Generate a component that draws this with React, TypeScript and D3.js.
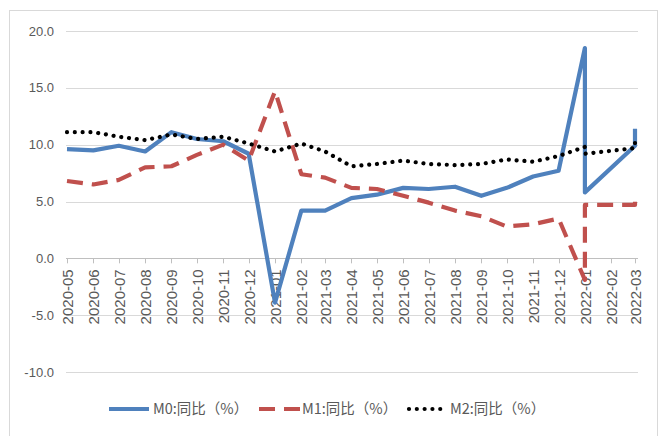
import React from 'react';
import * as d3 from 'd3';

// tick labels on the date axis
const ticks = [
  '2020-05', '2020-06', '2020-07', '2020-08', '2020-09', '2020-10', '2020-11', '2020-12',
  '2021-01', '2021-02', '2021-03', '2021-04', '2021-05', '2021-06', '2021-07', '2021-08',
  '2021-09', '2021-10', '2021-11', '2021-12', '2022-01', '2022-02', '2022-03'
];

// date each point sits on (Jan+Feb 2022 share one date, Mar+Apr share another)
const pointDates = [
  '2020-05', '2020-06', '2020-07', '2020-08', '2020-09', '2020-10', '2020-11', '2020-12',
  '2021-01', '2021-02', '2021-03', '2021-04', '2021-05', '2021-06', '2021-07', '2021-08',
  '2021-09', '2021-10', '2021-11', '2021-12', '2022-01', '2022-01', '2022-03', '2022-03'
];

const m0 = [9.6, 9.5, 9.9, 9.4, 11.1, 10.5, 10.3, 9.2, -3.9, 4.2, 4.2, 5.3, 5.6, 6.2, 6.1, 6.3, 5.5, 6.2, 7.2, 7.7, 18.5, 5.8, 9.9, 11.4];
const m1 = [6.8, 6.5, 6.9, 8.0, 8.1, 9.1, 10.0, 8.6, 14.7, 7.4, 7.1, 6.2, 6.1, 5.5, 4.9, 4.2, 3.7, 2.8, 3.0, 3.5, -1.9, 4.7, 4.7, 5.1];
const m2 = [11.1, 11.1, 10.7, 10.4, 10.9, 10.5, 10.7, 10.1, 9.4, 10.1, 9.4, 8.1, 8.3, 8.6, 8.3, 8.2, 8.3, 8.7, 8.5, 9.0, 9.8, 9.2, 9.7, 10.5];

const yTicks = [20, 15, 10, 5, 0, -5, -10];

const seriesNames = ['M0:同比（%）', 'M1:同比（%）', 'M2:同比（%）'];

const parseMonth = d3.timeParse('%Y-%m');

const App: React.FC = () => {
  const width = 666;
  const height = 436;

  const x = d3.scaleTime()
    .domain([parseMonth(ticks[0])!, parseMonth(ticks[ticks.length - 1])!])
    .range([67, 635]);
  const y = d3.scaleLinear().domain([-10, 20]).range([372, 31]);

  const gridLeft = 66;
  const gridRight = 638;

  const line = d3.line<number>()
    .x((_, i) => x(parseMonth(pointDates[i])!))
    .y(d => y(d));

  const series = [
    { values: m0, color: '#4f81bd', dash: undefined as string | undefined, cap: 'butt' },
    { values: m1, color: '#c0504d', dash: '16 9', cap: 'butt' },
    { values: m2, color: '#000000', dash: '0.01 7.8', cap: 'round' }
  ];

  const textColor = '#595959';
  const legendY = 409;
  const legendItems = [
    { x1: 109, x2: 149, tx: 153 },
    { x1: 259, x2: 300, tx: 302 },
    { x1: 409, x2: 443, tx: 450 }
  ];

  return (
    <div style={{ position: 'fixed', left: 0, top: 0 }}>
      <svg width={width} height={height} style={{ display: 'block', background: '#fff' }}>
        <rect x={9.5} y={10.5} width={648} height={440} fill="#fff" stroke="#d9d9d9" strokeWidth={1} />

        {/* gridlines */}
        {yTicks.map(t => (
          <line key={t} x1={gridLeft} x2={gridRight} y1={Math.round(y(t)) + 0.5} y2={Math.round(y(t)) + 0.5}
            stroke={t === 0 ? '#bfbfbf' : '#d9d9d9'} strokeWidth={1} />
        ))}

        {/* y labels */}
        {yTicks.map(t => (
          <text key={'l' + t} x={54} y={y(t)} dy="0.35em" textAnchor="end"
            fontFamily="Liberation Sans, Arial, sans-serif" fontSize={13} fill={textColor}>
            {t.toFixed(1)}
          </text>
        ))}

        {/* category ticks and labels on the 0 line */}
        {ticks.map(t => {
          const px = Math.round(x(parseMonth(t)!)) + 0.5;
          return (
            <g key={t}>
              <line x1={px} x2={px} y1={y(0)} y2={y(0) + 5} stroke="#bfbfbf" strokeWidth={1} />
              <text transform={`translate(${px},${y(0) + 11}) rotate(-90)`} dy="0.35em" textAnchor="end"
                fontFamily="Liberation Sans, Arial, sans-serif" fontSize={15} fill={textColor}>
                {t}
              </text>
            </g>
          );
        })}

        {/* series lines */}
        {series.map((s, i) => (
          <path key={i} d={line(s.values) ?? ''} fill="none" stroke={s.color} strokeWidth={4.2}
            strokeDasharray={s.dash} strokeLinecap={s.cap as any} strokeLinejoin="round" />
        ))}

        {/* legend */}
        {legendItems.map((l, i) => (
          <g key={'lg' + i}>
            <line x1={l.x1} x2={l.x2} y1={legendY} y2={legendY} stroke={series[i].color} strokeWidth={4.2}
              strokeDasharray={series[i].dash} strokeLinecap={series[i].cap as any} />
            <text x={l.tx} y={legendY} dy="0.35em" fontFamily="Noto Sans CJK SC, sans-serif" fontSize={14.5} fill={textColor}>
              {seriesNames[i]}
            </text>
          </g>
        ))}
      </svg>
    </div>
  );
};

export default App;
